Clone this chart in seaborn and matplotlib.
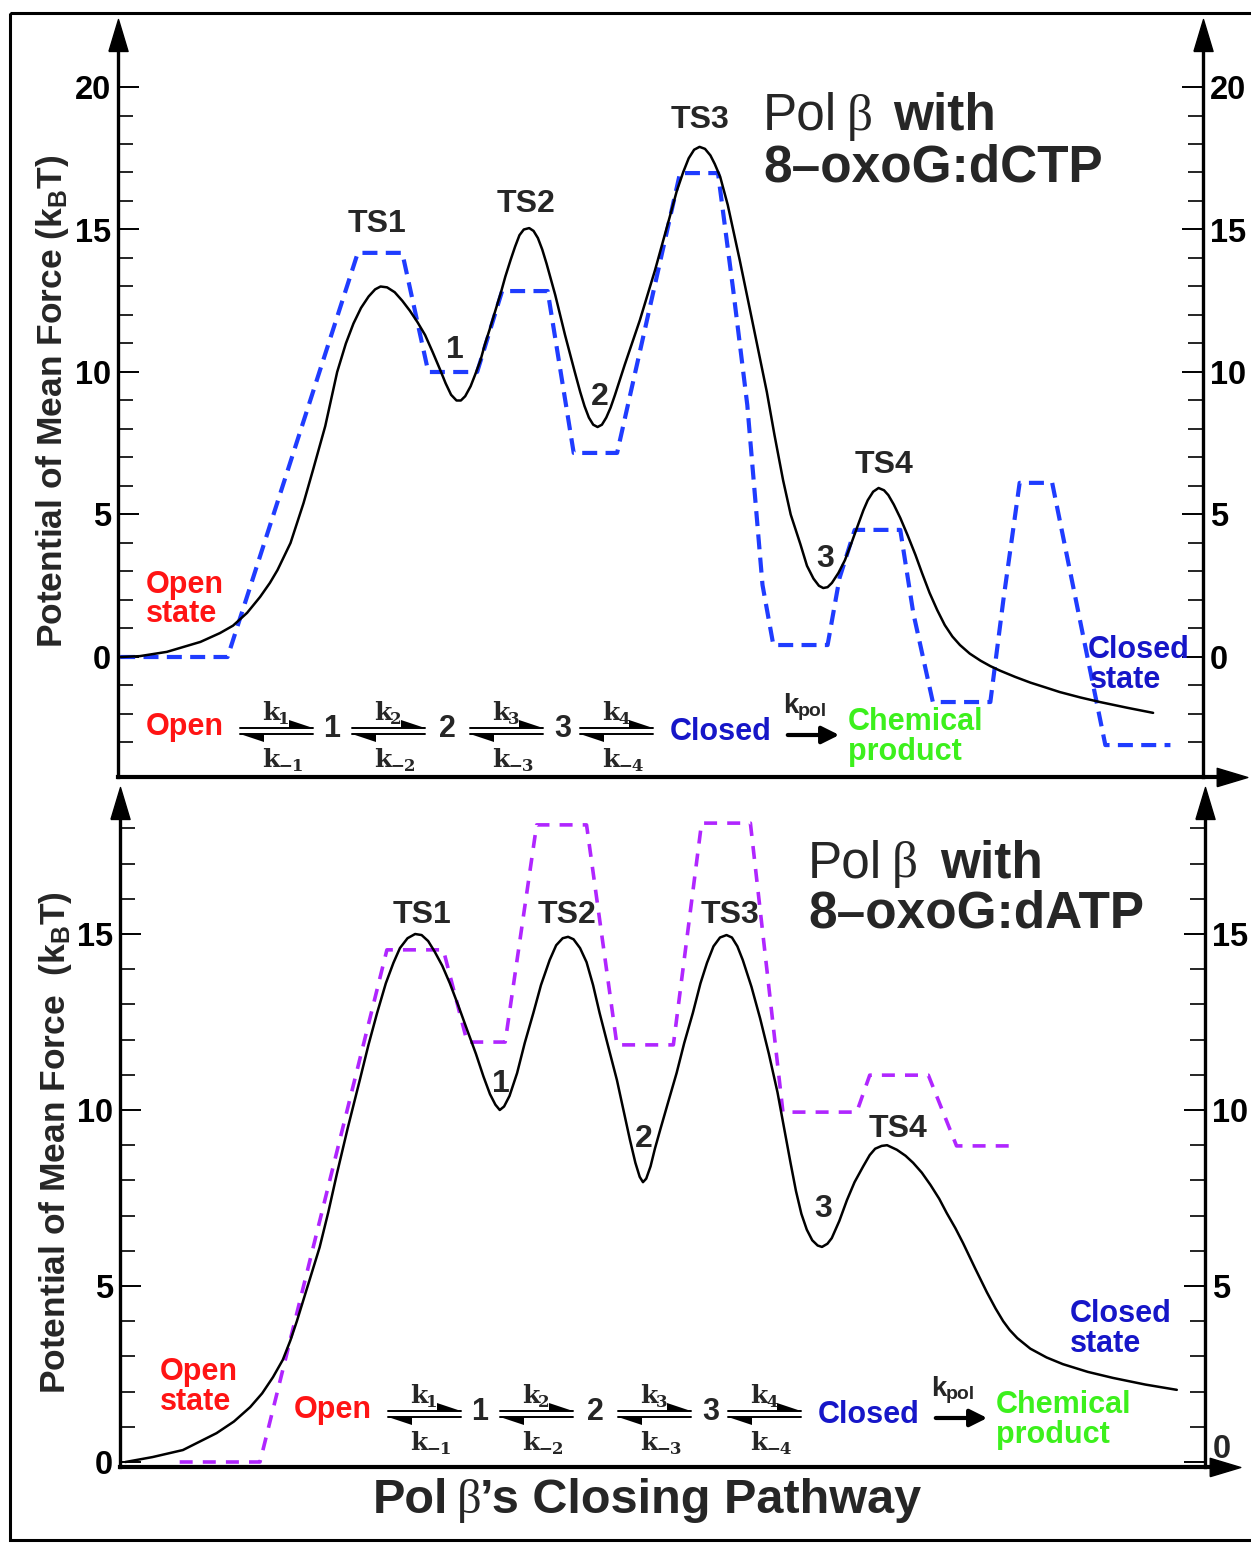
import pandas as pd
import seaborn as sns
import matplotlib.pyplot as plt
from matplotlib.transforms import Affine2D
from matplotlib.patches import Polygon, Rectangle, FancyArrowPatch
from matplotlib.lines import Line2D
from matplotlib.ticker import FixedLocator

# Values.
# x: reaction coordinate along the closing pathway (0 = left axis, 100 = right axis)
# y: potential of mean force in kBT

# Pol beta with 8-oxoG:dCTP, PMF curve (black)
dctp_x = [0.2, 2.0, 4.5, 7.6, 9.4, 10.6, 11.9, 13.1, 14.0, 14.7, 15.9, 17.1, 18.0, 19.1,
          20.2, 21.0, 21.7, 22.4, 23.1, 23.7, 24.2, 24.8, 25.5, 26.2, 26.9, 27.6, 28.3,
          29.0, 29.7, 30.2, 30.7, 31.2, 31.6, 32.0, 32.5, 32.9, 33.4, 33.8, 34.3, 34.8,
          35.3, 35.7, 36.2, 36.6, 37.0, 37.4, 37.9, 38.3, 38.7, 39.1, 39.5, 40.3, 41.2,
          42.1, 42.6, 43.0, 43.4, 43.8, 44.2, 44.6, 45.0, 45.4, 45.8, 46.7, 48.1, 49.5,
          50.9, 51.5, 52.1, 52.6, 53.1, 53.6, 54.1, 54.6, 55.0, 55.5, 56.2, 57.3, 58.4,
          59.1, 59.8, 60.5, 61.3, 62.0, 62.9, 63.5, 64.1, 64.6, 65.0, 65.4, 65.8, 66.4,
          67.0, 67.6, 68.2, 68.7, 69.1, 69.6, 70.1, 70.6, 71.0, 71.5, 72.1, 72.8, 73.5,
          74.1, 74.8, 75.5, 76.2, 76.9, 77.6, 78.5, 79.5, 80.4, 81.3, 82.7, 84.1, 85.5,
          86.8, 88.7, 90.5, 93.0, 95.4]
dctp_pmf = [0.0, 0.03, 0.18, 0.53, 0.84, 1.1, 1.55, 2.11, 2.6, 3.05, 4.0, 5.4, 6.6, 8.1,
            10.0, 11.0, 11.7, 12.25, 12.65, 12.9, 13.0, 12.97, 12.8, 12.5, 12.15, 11.75, 11.3,
            10.7, 10.07, 9.6, 9.2, 9.0, 9.0, 9.15, 9.5, 9.89, 10.4, 10.95, 11.55, 12.18,
            12.8, 13.35, 13.95, 14.4, 14.8, 15.0, 15.05, 14.95, 14.7, 14.3, 13.8, 12.7, 11.3,
            10.0, 9.3, 8.8, 8.4, 8.15, 8.07, 8.15, 8.4, 8.75, 9.19, 10.25, 11.82, 13.58,
            15.51, 16.35, 17.02, 17.5, 17.8, 17.9, 17.83, 17.6, 17.3, 16.85, 15.86, 13.93, 11.9,
            10.6, 9.3, 7.8, 6.2, 5.0, 3.95, 3.2, 2.75, 2.5, 2.42, 2.45, 2.6, 2.95,
            3.4, 4.0, 4.63, 5.15, 5.5, 5.8, 5.93, 5.85, 5.68, 5.35, 4.88, 4.25, 3.58,
            2.95, 2.25, 1.65, 1.12, 0.72, 0.42, 0.12, -0.13, -0.32, -0.48, -0.7, -0.9, -1.07,
            -1.23, -1.42, -1.58, -1.78, -1.96]

# Pol beta with 8-oxoG:dCTP, kinetic-model path (blue dashed)
dctp_path_x = [0.2, 10.1, 22.1, 26.2, 28.6, 33.1, 35.4, 39.6, 42.0, 46.0, 51.8, 55.3, 56.7,
               58.0, 59.4, 60.4, 65.4, 66.5, 67.9, 72.1, 73.3, 75.1, 80.4, 81.6, 83.1, 86.1,
               88.9, 91.0, 97.0]
dctp_path = [0.0, 0.0, 14.18, 14.18, 10.0, 10.0, 12.84, 12.84, 7.16, 7.16, 16.98, 16.98, 12.88,
             8.84, 2.53, 0.42, 0.42, 2.77, 4.46, 4.46, 1.54, -1.58, -1.58, 2.0, 6.11, 6.11,
             0.84, -3.09, -3.09]

# Pol beta with 8-oxoG:dATP, PMF curve (black)
datp_x = [0.5, 3.0, 5.8, 8.9, 10.5, 12.0, 13.1, 14.1, 15.0, 15.7, 16.3, 16.9, 17.6, 18.4,
          19.2, 20.0, 21.0, 22.1, 22.9, 23.7, 24.5, 25.2, 25.8, 26.5, 27.2, 27.8, 28.4,
          29.0, 29.7, 30.4, 31.2, 32.0, 32.8, 33.5, 34.1, 34.6, 35.0, 35.4, 35.9, 36.6,
          37.3, 38.1, 38.8, 39.6, 40.2, 40.8, 41.3, 41.8, 42.4, 43.0, 43.6, 44.2, 45.0,
          45.8, 46.4, 47.0, 47.5, 47.9, 48.2, 48.5, 48.9, 49.3, 49.8, 50.5, 51.3, 52.0,
          52.8, 53.5, 54.1, 54.7, 55.3, 55.9, 56.4, 56.9, 57.4, 58.2, 59.0, 59.8, 60.6,
          61.2, 61.8, 62.3, 62.8, 63.3, 63.8, 64.3, 64.7, 65.2, 65.6, 66.3, 67.0, 67.7,
          68.5, 69.1, 69.6, 70.2, 70.7, 71.6, 72.4, 73.1, 73.9, 74.7, 75.5, 76.2, 77.0,
          77.7, 78.8, 79.9, 80.7, 81.4, 82.0, 82.7, 83.9, 85.4, 86.9, 89.2, 91.5, 94.5, 97.4]
datp_pmf = [0.0, 0.14, 0.34, 0.82, 1.15, 1.56, 1.95, 2.41, 2.9, 3.45, 4.0, 4.6, 5.3, 6.1,
            7.1, 8.2, 9.5, 10.85, 11.85, 12.76, 13.6, 14.18, 14.6, 14.88, 15.0, 14.97, 14.8,
            14.5, 14.1, 13.6, 12.95, 12.27, 11.6, 10.95, 10.45, 10.15, 10.0, 10.1, 10.4, 11.05,
            11.9, 12.76, 13.55, 14.26, 14.68, 14.88, 14.92, 14.85, 14.6, 14.2, 13.55, 12.76, 11.8,
            10.85, 10.0, 9.15, 8.5, 8.1, 7.95, 8.05, 8.4, 8.9, 9.45, 10.2, 11.05, 11.9,
            12.76, 13.6, 14.18, 14.65, 14.9, 14.97, 14.9, 14.65, 14.26, 13.5, 12.6, 11.6, 10.5,
            9.5, 8.5, 7.7, 7.05, 6.6, 6.3, 6.15, 6.11, 6.2, 6.36, 6.85, 7.44, 7.95,
            8.4, 8.72, 8.9, 8.98, 9.0, 8.87, 8.7, 8.5, 8.22, 7.87, 7.48, 7.07, 6.64,
            6.22, 5.51, 4.82, 4.36, 4.0, 3.75, 3.52, 3.22, 2.97, 2.78, 2.56, 2.39, 2.2, 2.05]

# Pol beta with 8-oxoG:dATP, kinetic-model path (purple dashed)
datp_path_x = [5.5, 12.9, 24.6, 29.8, 32.0, 35.5, 38.4, 43.0, 45.8, 51.0, 53.6, 58.1, 61.1,
               67.9, 69.1, 74.5, 77.1, 82.0]
datp_path = [0.0, 0.0, 14.55, 14.55, 11.93, 11.93, 18.1, 18.1, 11.85, 11.85, 18.15, 18.15, 9.94,
             9.94, 10.99, 10.99, 8.98, 8.98]

W, H = 1251, 1543
RED, BLUE_TXT, GREEN = "#ff1414", "#1616c8", "#3cf01c"
BLUE_DASH, PURPLE_DASH = "#1f3cff", "#b026ff"

sns.set_style("white")
plt.rcParams["font.family"] = ["Liberation Sans", "DejaVu Sans"]
plt.rcParams["font.weight"] = "bold"
plt.rcParams.update({
    "mathtext.fontset": "custom",
    "mathtext.rm": "Liberation Sans",
    "mathtext.it": "Liberation Sans:italic",
    "mathtext.bf": "Liberation Sans:bold",
})

fig = plt.figure(figsize=(W / 100, H / 100), dpi=100)
# place annotations in picture pixels, origin top-left
pix = Affine2D().scale(1 / W, -1 / H).translate(0, 1) + fig.transFigure

UP = [(-0.6, -1), (0.6, -1), (0, 1), (-0.6, -1)]
RIGHT = [(-1, -0.6), (-1, 0.6), (1, 0), (-1, -0.6)]
SERIF = ["Liberation Serif", "DejaVu Serif"]
SLAB = ["DejaVu Serif"]


def make_axes(left, right, bottom, top, zero_row, px_per_kbt, majors, minors):
    ax = fig.add_axes([left / W, 1 - bottom / H, (right - left) / W, (bottom - top) / H])
    ax.set_xlim(0, (right - left) / 10.85)
    ax.set_ylim((zero_row - bottom) / px_per_kbt, (zero_row - top) / px_per_kbt)
    ax.spines["top"].set_visible(False)
    ax.spines["right"].set_position(("data", 100))
    for side, lw in (("left", 2.4), ("right", 2.4), ("bottom", 3.0)):
        ax.spines[side].set_linewidth(lw)
        ax.spines[side].set_color("black")
    ax.set_xticks([])
    ax.yaxis.set_major_locator(FixedLocator(majors))
    ax.yaxis.set_minor_locator(FixedLocator(minors))
    ax.tick_params(axis="y", which="both", direction="in", left=True, right=True,
                   labelleft=True, labelright=True, color="black", labelcolor="black")
    ax.tick_params(axis="y", which="major", length=15, width=1.4, labelsize=23.5, pad=5)
    ax.tick_params(axis="y", which="minor", length=11, width=1.2)
    ax.plot([0, 100], [1, 1], ls="none", marker=UP, ms=23, color="black",
            transform=ax.get_xaxis_transform(), clip_on=False)
    ax.plot([1], [0], ls="none", marker=RIGHT, ms=22, color="black",
            transform=ax.transAxes, clip_on=False)
    return ax


def draw_profiles(ax, x, pmf, path_x, path, dash_color, dash_lw, dashes):
    sns.lineplot(x=path_x, y=path, ax=ax, color=dash_color, lw=dash_lw,
                 linestyle=(0, dashes), estimator=None, sort=False)
    sns.lineplot(x=x, y=pmf, ax=ax, color="black", lw=1.8, estimator=None, sort=False,
                 solid_joinstyle="round")
    ax.set_xlabel("")
    ax.set_ylabel("")


def txt(x, y, s, **kw):
    kw.setdefault("va", "baseline")
    fig.text(x, y, s, transform=pix, **kw)


def harpoon(x0, x1, y):
    for yy in (y - 3, y + 3):
        fig.add_artist(Line2D([x0, x1], [yy, yy], transform=pix, color="black", lw=1.4))
    fig.add_artist(Polygon([(x1 - 24, y - 11), (x1, y - 3), (x1 - 24, y - 3)],
                           transform=pix, color="black", lw=0))
    fig.add_artist(Polygon([(x0, y + 3), (x0 + 24, y + 3), (x0 + 24, y + 11)],
                           transform=pix, color="black", lw=0))


def rate(x, y, sub):
    txt(x, y, "k", fontsize=18, family=SLAB)
    txt(x + 16, y + 4, sub, fontsize=12, family=SLAB)


def scheme(dx, dy):
    txt(146 + dx, 735 + dy, "Open", color=RED, fontsize=22)
    for i, x0 in enumerate([240, 352, 470, 580], start=1):
        harpoon(x0 + dx, x0 + 73 + dx, 731 + dy)
        rate(x0 + 22 + dx, 720 + dy, str(i))
        rate(x0 + 22 + dx, 767 + dy, "\u2212%d" % i)
    for xc, s in zip([332, 447, 563], ["1", "2", "3"]):
        txt(xc + dx, 737 + dy, s, fontsize=22, ha="center")
    txt(670 + dx, 740 + dy, "Closed", color=BLUE_TXT, fontsize=22)
    txt(783 + dx, 713 + dy, "k", fontsize=20)
    txt(798 + dx, 716 + dy, "pol", fontsize=14)
    fig.add_artist(FancyArrowPatch((785 + dx, 735 + dy), (842 + dx, 735 + dy), transform=pix,
                                   arrowstyle="-|>", mutation_scale=26, lw=3, color="black"))
    txt(848 + dx, 730 + dy, "Chemical", color=GREEN, fontsize=22)
    txt(848 + dx, 760 + dy, "product", color=GREEN, fontsize=22)


def title(x_pol, x_beta, x_with, y1, y2, line2):
    txt(x_pol, y1, "Pol", fontsize=37, fontweight="normal")
    txt(x_beta, y1, "β", fontsize=37, fontweight="normal", family=SERIF)
    txt(x_with, y1, "with", fontsize=37)
    txt(x_pol, y2, line2, fontsize=37)


# ---- top panel: 8-oxoG:dCTP ----
ax1 = make_axes(118, 1232, 777, 35, 657, 28.5, [0, 5, 10, 15, 20], list(range(-3, 20)))
draw_profiles(ax1, dctp_x, dctp_pmf, dctp_path_x, dctp_path, BLUE_DASH, 3.0, (3.6, 2.0))

# ---- bottom panel: 8-oxoG:dATP ----
ax2 = make_axes(120, 1225, 1467, 803, 1462, 35.2, [0, 5, 10, 15], list(range(0, 19)))
draw_profiles(ax2, datp_x, datp_pmf, datp_path_x, datp_path, PURPLE_DASH, 2.6, (3.6, 2.8))
# right-hand "0" of the lower panel sits just above the x arrow
ax2.yaxis.get_major_ticks()[0].label2.set_visible(False)
txt(1213, 1458, "0", fontsize=23.5)

# y labels
ylab = "Potential of Mean Force (k$_\\mathbf{B}$T)"
txt(62, 401, ylab, fontsize=25.5, rotation=90, rotation_mode="anchor", ha="center")
txt(65, 1143, ylab.replace("Force (", "Force  ("), fontsize=25.5, rotation=90,
    rotation_mode="anchor", ha="center")

# transition states and intermediates
for x, y, s in [(377, 232, "TS1"), (526, 212, "TS2"), (700, 128, "TS3"), (884, 473, "TS4"),
                (455, 358, "1"), (600, 405, "2"), (825, 567, "3"),
                (422, 923, "TS1"), (567, 923, "TS2"), (730, 923, "TS3"), (898, 1137, "TS4"),
                (501, 1092, "1"), (644, 1147, "2"), (823, 1217, "3")]:
    txt(x, y, s, fontsize=23, ha="center")

# state labels
txt(146, 593, "Open", color=RED, fontsize=22)
txt(146, 622, "state", color=RED, fontsize=22)
txt(1088, 658, "Closed", color=BLUE_TXT, fontsize=22)
txt(1090, 688, "state", color=BLUE_TXT, fontsize=22)
txt(160, 1380, "Open", color=RED, fontsize=22)
txt(160, 1410, "state", color=RED, fontsize=22)
txt(1070, 1322, "Closed", color=BLUE_TXT, fontsize=22)
txt(1070, 1352, "state", color=BLUE_TXT, fontsize=22)

# kinetic schemes
scheme(0, 0)
scheme(148, 683)

# panel titles
title(763, 847, 893, 130, 182, "8–oxoG:dCTP")
title(808, 892, 940, 877, 927, "8–oxoG:dATP")

# pathway label
txt(373, 1513, "Pol", fontsize=35)
txt(457, 1513, "β", fontsize=35, fontweight="normal", family=SERIF)
txt(480, 1513, "’s Closing Pathway", fontsize=35)

# outer frame
fig.add_artist(Rectangle((10, 13), 1270, 1527, transform=pix, fill=False, lw=2.2, ec="black"))

fig.savefig("out.png", dpi=100)
